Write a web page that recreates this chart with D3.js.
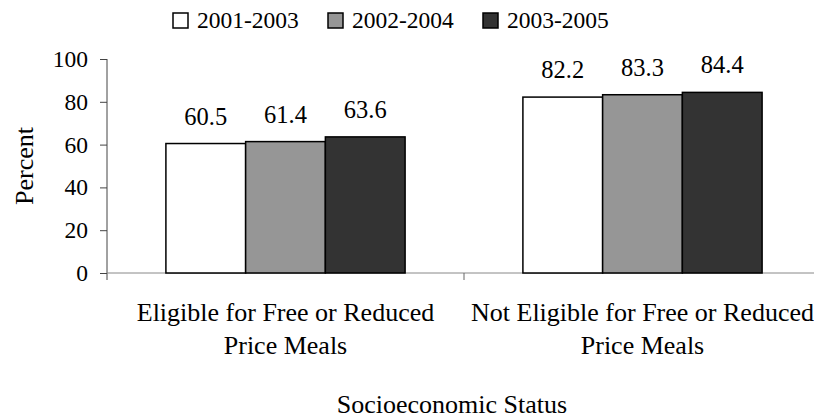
<!DOCTYPE html>
<html>
<head>
<meta charset="utf-8">
<script src="https://cdn.jsdelivr.net/npm/d3@7"></script>
<style>
  html, body { margin: 0; padding: 0; background: #fff; overflow: hidden; }
  svg { display: block; font-family: "Liberation Serif", "Times New Roman", serif; }
</style>
</head>
<body>
<svg id="chart" width="814" height="420"></svg>
<script>
const categories = [["Eligible for Free or Reduced", "Price Meals"], ["Not Eligible for Free or Reduced", "Price Meals"]];
const seriesNames = ["2001-2003", "2002-2004", "2003-2005"];
const seriesColors = ["#ffffff", "#969696", "#333333"];
const values2001_2003 = [60.5, 82.2];
const values2002_2004 = [61.4, 83.3];
const values2003_2005 = [63.6, 84.4];
const yTicks = [0, 20, 40, 60, 80, 100];
const yLabel = "Percent";
const xLabel = "Socioeconomic Status";

const seriesValues = [values2001_2003, values2002_2004, values2003_2005];
const svg = d3.select("#chart");

const mLeft = 107, mRight = 821, mTop = 59, mBottom = 273;
const catIdx = categories.map((d, i) => i);

const x0 = d3.scaleBand().domain(catIdx).range([mLeft, mRight]).padding(0);
const step = x0.bandwidth();
const x1 = d3.scaleBand().domain(d3.range(seriesNames.length))
  .range([step * 0.165, step * 0.835]).padding(0);
const y = d3.scaleLinear().domain([0, 100]).range([mBottom, mTop]);

// y axis
const yAxis = d3.axisLeft(y).tickValues(yTicks).tickSize(7).tickSizeOuter(0).tickPadding(12);
const gy = svg.append("g").attr("transform", `translate(${mLeft},0)`).call(yAxis);
gy.select(".domain").attr("stroke", "#444").attr("d", `M0,${mTop}V${mBottom + 7}`);
gy.selectAll(".tick line").attr("stroke", "#444");
gy.selectAll(".tick text").attr("font-size", 23.5).attr("fill", "#000")
  .attr("font-family", "Liberation Serif, serif");

// x axis baseline with category boundary ticks
const gx = svg.append("g");
gx.append("line").attr("x1", mLeft).attr("x2", mRight + 10).attr("y1", mBottom).attr("y2", mBottom)
  .attr("stroke", "#888").attr("stroke-width", 1);
const bounds = catIdx.slice(1).map(i => x0(i));
gx.selectAll("line.tk").data(bounds).enter().append("line").attr("class", "tk")
  .attr("x1", d => d).attr("x2", d => d).attr("y1", mBottom).attr("y2", mBottom + 7)
  .attr("stroke", "#666");

// bars
const groups = svg.selectAll("g.cat").data(catIdx).enter().append("g")
  .attr("class", "cat").attr("transform", d => `translate(${x0(d)},0)`);
groups.selectAll("rect").data(c => seriesValues.map((s, k) => ({k, v: s[c]}))).enter()
  .append("rect")
  .attr("x", d => x1(d.k))
  .attr("width", x1.bandwidth())
  .attr("y", d => y(d.v))
  .attr("height", d => y(0) - y(d.v))
  .attr("fill", d => seriesColors[d.k])
  .attr("stroke", "#000").attr("stroke-width", 1.5);
groups.selectAll("text.val").data(c => seriesValues.map((s, k) => ({k, v: s[c]}))).enter()
  .append("text").attr("class", "val")
  .attr("x", d => x1(d.k) + x1.bandwidth() / 2)
  .attr("y", d => y(d.v) - 19)
  .attr("text-anchor", "middle").attr("font-size", 24.5)
  .text(d => d.v.toFixed(1));

// category labels
const cl = svg.selectAll("text.catlab").data(catIdx).enter().append("text").attr("class", "catlab")
  .attr("text-anchor", "middle").attr("font-size", 26)
  .attr("x", d => x0(d) + step / 2).attr("y", 321);
cl.selectAll("tspan").data(d => categories[d]).enter().append("tspan")
  .attr("x", function() { return this.parentNode.getAttribute("x"); })
  .attr("dy", (d, i) => i === 0 ? 0 : 33).text(d => d);

// axis titles
svg.append("text").attr("x", 452).attr("y", 413).attr("text-anchor", "middle")
  .attr("font-size", 26).text(xLabel);
svg.append("text").attr("transform", `translate(33,${(mTop + mBottom) / 2}) rotate(-90)`)
  .attr("text-anchor", "middle").attr("font-size", 26).text(yLabel);

// legend
const legX = d3.scaleLinear().domain([0, 1]).range([173, 328]);
const lg = svg.selectAll("g.leg").data(seriesNames).enter().append("g").attr("class", "leg")
  .attr("transform", (d, i) => `translate(${legX(i)},13)`);
lg.append("rect").attr("width", 15).attr("height", 15)
  .attr("fill", (d, i) => seriesColors[i]).attr("stroke", "#000").attr("stroke-width", 1.5);
lg.append("text").attr("x", 24).attr("y", 15).attr("font-size", 23.5).text(d => d);
</script>
</body>
</html>
